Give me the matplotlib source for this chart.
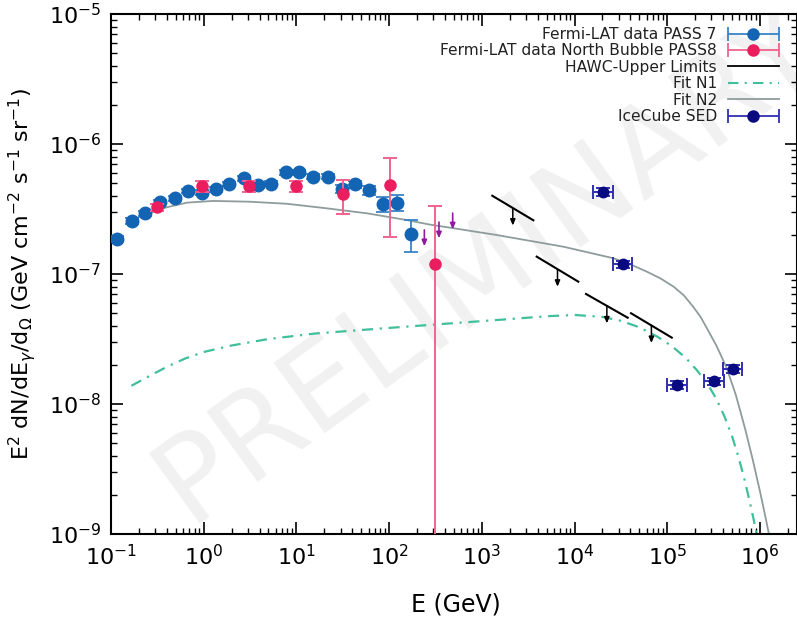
import numpy as np
import matplotlib
matplotlib.use("Agg")
import matplotlib.pyplot as plt
from matplotlib.container import ErrorbarContainer
from matplotlib.lines import Line2D
from matplotlib.collections import LineCollection
from matplotlib.legend_handler import HandlerErrorbar

# ---------------- data ----------------
# Fermi-LAT PASS 7
pass7_E = [0.116, 0.169, 0.234, 0.338, 0.486, 0.678, 0.95, 1.35, 1.89, 2.72, 3.88,
           5.27, 7.66, 10.7, 15.2, 21.7, 30.8, 43.3, 60.7, 86.7, 121, 172]
pass7_F = [1.86e-7, 2.56e-7, 2.93e-7, 3.58e-7, 3.82e-7, 4.35e-7, 4.22e-7, 4.51e-7,
           4.92e-7, 5.45e-7, 4.84e-7, 4.95e-7, 6.05e-7, 6.05e-7, 5.62e-7, 5.62e-7,
           4.53e-7, 4.90e-7, 4.43e-7, 3.45e-7, 3.54e-7, 2.04e-7]
pass7_err = [0.10e-7, 0.12e-7, 0.13e-7, 0.15e-7, 0.15e-7, 0.17e-7, 0.20e-7, 0.20e-7,
             0.20e-7, 0.22e-7, 0.22e-7, 0.22e-7, 0.25e-7, 0.25e-7, 0.25e-7, 0.28e-7,
             0.35e-7, 0.30e-7, 0.35e-7, 0.46e-7, 0.50e-7, 0.57e-7]

# Fermi-LAT North Bubble PASS8
nb_E = [0.311, 0.95, 3.08, 9.9, 31.6, 102, 316]
nb_F = [3.26e-7, 4.75e-7, 4.75e-7, 4.75e-7, 4.10e-7, 4.84e-7, 1.19e-7]
nb_err = [0.22e-7, 0.48e-7, 0.46e-7, 0.45e-7, 1.2e-7, 2.9e-7, 2.13e-7]

# purple upper limits (PASS8)
ul_E = [240, 345, 485]
ul_F = [2.18e-7, 2.51e-7, 2.94e-7]

# HAWC upper limits (segments)
hawc_E_lo = [1297, 3908, 13300, 40700]
hawc_E_hi = [3597, 10990, 37500, 112000]
hawc_F_lo = [4.0e-7, 1.36e-7, 7.02e-8, 4.99e-8]
hawc_F_hi = [2.59e-7, 8.73e-8, 4.61e-8, 3.24e-8]

# IceCube SED
ic_E = [20500, 33100, 128500, 322000, 508000]
ic_E_lo = [16000, 26300, 100000, 251000, 403000]
ic_E_hi = [26300, 42000, 162000, 409000, 646000]
ic_F = [4.3e-7, 1.19e-7, 1.40e-8, 1.49e-8, 1.86e-8]
ic_err = [0.30e-7, 0.08e-7, 0.10e-8, 0.10e-8, 0.12e-8]

# Fit N1 (log10 E, log10 F)
n1_logE = [-0.78, -0.6, -0.4, -0.2, 0.0, 0.3, 0.7, 1.2, 1.9, 2.6, 3.2, 3.7, 4.0, 4.3,
           4.5, 4.7, 4.9, 5.05, 5.2, 5.32, 5.43, 5.53, 5.62, 5.70, 5.77, 5.83, 5.88,
           5.93, 5.97, 6.01]
n1_logF = [-7.86, -7.79, -7.715, -7.65, -7.60, -7.55, -7.50, -7.458, -7.42, -7.383,
           -7.352, -7.325, -7.315, -7.33, -7.36, -7.41, -7.485, -7.555, -7.645, -7.74,
           -7.84, -7.96, -8.10, -8.25, -8.41, -8.57, -8.72, -8.88, -9.02, -9.17]

# Fit N2 (log10 E, log10 F)
n2_logE = [-0.77, -0.65, -0.40, -0.18, 0.10, 0.50, 0.90, 1.33, 1.76, 2.19, 2.44, 2.66,
           3.16, 3.88, 4.42, 4.6, 4.78, 4.93, 5.07, 5.18, 5.28, 5.36, 5.43, 5.53, 5.64,
           5.74, 5.84, 5.92, 6.0, 6.06, 6.12, 6.16]
n2_logF = [-6.59, -6.546, -6.487, -6.451, -6.438, -6.444, -6.46, -6.495, -6.533, -6.585,
           -6.62, -6.644, -6.70, -6.79, -6.879, -6.925, -6.982, -7.035, -7.098, -7.165,
           -7.252, -7.33, -7.42, -7.55, -7.72, -7.93, -8.19, -8.42, -8.67, -8.87,
           -9.08, -9.22]

# ---------------- styling ----------------
c_blue = '#1464b4'
c_blue_e = '#3a82c8'
c_pink = '#ea1e5e'
c_pink_e = '#f0648e'
c_navy = '#0a0a80'
c_navy_e = '#3030b0'
c_n1 = '#40bf9c'
c_n2 = '#8e9c9c'
c_purple = '#8e1a9e'

plt.rcParams['font.family'] = ['DejaVu Sans']
fig = plt.figure(figsize=(7.97, 6.23), dpi=100)
ax = fig.add_axes([111/797, 89/623, 686/797, 520/623])
ax.set_xscale('log')
ax.set_yscale('log')
ax.set_xlim(0.1, 10**6.4)
ax.set_ylim(1e-9, 1e-5)

# watermark
ax.text(0.112, 0.02, 'PRELIMINARY', transform=ax.transAxes, rotation=36,
        rotation_mode='anchor', ha='left', va='baseline', fontsize=86,
        color='#f1f1f1', zorder=0, clip_on=True)

# fits
ax.plot(10**np.array(n1_logE), 10**np.array(n1_logF), color=c_n1, lw=1.6,
        linestyle=(0, (5, 3, 1, 3)), zorder=2)
ax.plot(10**np.array(n2_logE), 10**np.array(n2_logF), color=c_n2, lw=1.3, zorder=2)

# Fermi PASS7
ax.errorbar(pass7_E, pass7_F, yerr=pass7_err, fmt='o', color=c_blue, ecolor=c_blue_e,
            ms=9, elinewidth=1.3, capsize=5, capthick=1.3, zorder=4)
# North bubble PASS8
ax.errorbar(nb_E, nb_F, yerr=nb_err, fmt='o', color=c_pink, ecolor=c_pink_e,
            ms=8, elinewidth=1.4, capsize=5, capthick=1.4, zorder=5)
# purple upper limits
for e, f in zip(ul_E, ul_F):
    ax.annotate('', xy=(e, f * 10**-0.125), xytext=(e, f),
                arrowprops=dict(arrowstyle='-|>,head_length=0.35,head_width=0.15',
                                color=c_purple, lw=1.2, shrinkA=0, shrinkB=0), zorder=5)
# HAWC
for elo, ehi, flo, fhi in zip(hawc_E_lo, hawc_E_hi, hawc_F_lo, hawc_F_hi):
    ax.plot([elo, ehi], [flo, fhi], color='black', lw=1.5, zorder=3)
    em = np.sqrt(elo * ehi)
    fm = np.sqrt(flo * fhi)
    ax.annotate('', xy=(em, fm * 10**-0.135), xytext=(em, fm),
                arrowprops=dict(arrowstyle='-|>,head_length=0.35,head_width=0.15',
                                color='black', lw=1.1, shrinkA=0, shrinkB=0), zorder=3)
# IceCube
ic_xerr = [np.array(ic_E) - np.array(ic_E_lo), np.array(ic_E_hi) - np.array(ic_E)]
ax.errorbar(ic_E, ic_F, xerr=ic_xerr, yerr=ic_err, fmt='o', color=c_navy, ecolor=c_navy_e,
            ms=7.5, elinewidth=1.4, capsize=5, capthick=1.4, zorder=5)

# axes styling
for s in ax.spines.values():
    s.set_linewidth(1.5)
ax.tick_params(which='both', direction='in', top=True, right=True, labelsize=16)
ax.tick_params(which='major', length=8.5, width=1.2, pad=7)
ax.tick_params(which='minor', length=4.5, width=1.0)
ax.set_xlabel('E (GeV)', fontsize=17)
ax.set_ylabel(r'E$^2$ dN/dE$_\gamma$/d$_\Omega$ (GeV cm$^{-2}$ s$^{-1}$ sr$^{-1}$)',
              fontsize=16)
ax.xaxis.set_label_coords(0.503, -0.113)
ax.yaxis.set_label_coords(-0.106, 0.5)

# legend
def eb_handle(mcol, ecol, ms, label):
    pl = Line2D([], [], color=mcol, marker='o', markersize=ms, markerfacecolor=mcol,
                markeredgecolor=mcol, linestyle='none')
    cap = Line2D([], [], color=ecol, marker='|', markersize=10, markeredgewidth=1.3,
                 linestyle='none')
    bar = LineCollection([], colors=ecol, linewidths=1.3)
    return ErrorbarContainer((pl, (cap,), (bar,)), has_xerr=True, has_yerr=False,
                             label=label)

fs_leg = 11.2
h1 = eb_handle(c_blue, c_blue_e, 8, 'Fermi-LAT data PASS 7')
h2 = eb_handle(c_pink, c_pink_e, 8, 'Fermi-LAT data North Bubble PASS8')
h3 = Line2D([], [], color='black', lw=1.3, label='HAWC-Upper Limits')
h4 = Line2D([], [], color=c_n1, lw=1.5, linestyle=(0, (5, 3, 1, 3)), label='Fit N1')
h5 = Line2D([], [], color=c_n2, lw=1.3, label='Fit N2')
h6 = eb_handle(c_navy, c_navy_e, 8, 'IceCube SED')
hm = HandlerErrorbar(xerr_size=1.64, numpoints=1)
leg = ax.legend(handles=[h1, h2, h3, h4, h5, h6], loc='upper right',
                bbox_to_anchor=(0.978, 0.981), frameon=False,
                markerfirst=False, fontsize=fs_leg, handlelength=3.28, handletextpad=0.7,
                labelspacing=0.09, borderaxespad=0.0, borderpad=0.2,
                handler_map={ErrorbarContainer: hm})
for t in leg.get_texts():
    t.set_color('#222222')

fig.savefig('out.png', dpi=100)
